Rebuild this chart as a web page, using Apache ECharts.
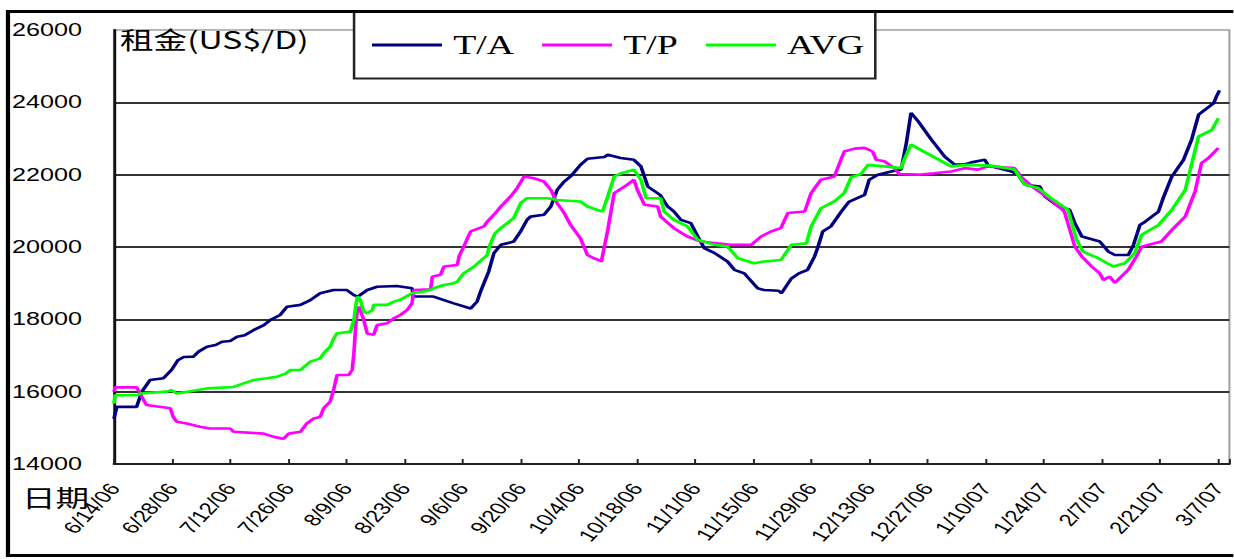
<!DOCTYPE html>
<html>
<head>
<meta charset="utf-8">
<script src="https://cdn.jsdelivr.net/npm/echarts@6/dist/echarts.min.js"></script>
<style>
html,body{margin:0;padding:0;background:#fff;overflow:hidden;width:1234px;height:559px;}
#main{width:881.43px;height:559px;transform:scaleX(1.4);transform-origin:0 0;}
</style>
</head>
<body>
<div id="main"></div>
<script>
// x = business-day index from 6/14/06 (10 days per labelled tick)
var tickLabels = ['6/14/06','6/28/06','7/12/06','7/26/06','8/9/06','8/23/06','9/6/06','9/20/06','10/4/06','10/18/06','11/1/06','11/15/06','11/29/06','12/13/06','12/27/06','1/10/07','1/24/07','2/7/07','2/21/07','3/7/07'];
var seriesNames = ['T/A','T/P','AVG'];

var TA = [[0,15250],[0.5,15580],[3.9,15580],[4.8,16000],[6.2,16320],[8.5,16370],[9.9,16600],[11,16870],[12,16960],[13.7,16970],[14.5,17100],[16,17240],[17.5,17290],[18.6,17380],[20,17400],[21.2,17520],[22.5,17560],[24,17700],[25.8,17840],[26.9,17980],[28.6,18120],[29.8,18350],[32.1,18400],[33.8,18530],[35.5,18720],[37.8,18810],[40.1,18810],[41.3,18670],[42,18630],[43.6,18810],[45.3,18900],[48.7,18920],[51.3,18860],[51.6,18630],[55,18630],[56.8,18530],[58.5,18440],[61.4,18300],[62.5,18490],[63.2,18810],[64.5,19320],[65.4,19830],[66.6,20060],[68.8,20150],[70,20430],[71.1,20750],[71.7,20840],[74,20890],[75.2,21120],[76.3,21580],[77.5,21810],[78.6,21950],[80.3,22270],[81.5,22440],[84.4,22490],[85,22550],[87.2,22460],[89.5,22410],[90.7,22230],[91.3,21950],[91.9,21670],[94,21440],[95.3,21120],[96.4,20980],[97.6,20750],[99.3,20660],[100.5,20290],[101.6,19970],[103.4,19830],[105.6,19600],[106.8,19370],[108.5,19270],[109,19180],[110.8,18860],[111.9,18810],[114.4,18790],[114.9,18720],[116.6,19130],[117.9,19270],[119.4,19370],[120.6,19740],[121.2,20010],[122,20430],[123.4,20570],[125.2,20980],[126.5,21250],[129.2,21440],[130,21860],[131.5,22000],[133.8,22090],[135.5,22140],[136.4,22880],[137.2,23710],[138.4,23480],[140.7,22970],[143,22500],[144.7,22280],[146.4,22280],[147.6,22340],[149.9,22410],[150.5,22250],[154.5,22090],[155.6,22000],[156.8,21720],[159.4,21670],[160.2,21400],[162.6,21120],[164.5,21030],[165.4,20660],[166.6,20290],[169.7,20150],[171.2,19870],[172.3,19780],[174.6,19780],[175.5,20060],[176.6,20610],[177.5,20700],[179.8,20980],[180.6,21350],[182.1,21950],[184.1,22410],[185.5,22970],[186.7,23660],[189.3,23980],[189.8,24170],[190.3,24330]];

var TP = [[0,16000],[0.2,16120],[3.9,16120],[4.5,15950],[5.1,15770],[5.6,15630],[9.7,15540],[10.2,15300],[10.8,15170],[12.5,15120],[14.8,15030],[16.5,14980],[20,14980],[20.6,14890],[25.8,14840],[27.5,14750],[29.2,14700],[30.1,14840],[32.1,14890],[33.2,15120],[34.4,15260],[35.5,15300],[36.1,15540],[37.2,15720],[37.8,16040],[38.4,16460],[40.4,16460],[41,16600],[41.3,17060],[41.6,17800],[41.9,18260],[42.2,18350],[43,17980],[43.6,17610],[44.7,17570],[45.3,17840],[47,17890],[48.2,18030],[49.3,18120],[50.5,18260],[51.3,18440],[51.6,18810],[54.5,18830],[54.8,19180],[56.2,19230],[56.8,19460],[59.1,19500],[59.4,19740],[60.2,20010],[61.4,20430],[63.7,20570],[64.25,20700],[65.4,20890],[66.6,21120],[68.3,21400],[69.4,21630],[70.6,21950],[72.3,21900],[74,21810],[75.2,21580],[76.3,21210],[77.5,20940],[78.6,20610],[80.3,20240],[81.5,19780],[82.6,19690],[83.9,19600],[85,20470],[86.1,21490],[87.9,21670],[89.5,21860],[90.1,21580],[91.3,21170],[93.6,21120],[94.1,20840],[96.4,20520],[98.7,20290],[101,20150],[106.2,20060],[109.7,20060],[111.4,20290],[113.1,20430],[114.8,20520],[116,20940],[118.9,20980],[120,21490],[121.7,21860],[124,21950],[125.7,22640],[127.5,22720],[129.2,22740],[130.6,22640],[131.2,22410],[132.6,22370],[134.3,22180],[135.2,22020],[138.4,22000],[141.2,22040],[144.1,22090],[146.4,22180],[148.7,22140],[150.5,22230],[155,22180],[156.1,21950],[158.4,21630],[161.3,21300],[163.6,20980],[165.4,20010],[166.6,19740],[168.3,19460],[169.7,19270],[170.3,19090],[171.4,19180],[172.3,19010],[174.6,19370],[176,19740],[176.9,20010],[180.3,20150],[182.1,20470],[184.4,20840],[186.1,21540],[187.2,22320],[188.4,22460],[190.1,22740]];

var AVG = [[0,15670],[0.2,15900],[3.9,15900],[4.5,15950],[9.1,16000],[9.9,16040],[10.8,15950],[14.2,16040],[16,16090],[20.6,16130],[22.3,16230],[24,16320],[26.3,16370],[28,16410],[29.5,16500],[30.4,16600],[32.1,16600],[33.8,16830],[35.5,16920],[36.1,17060],[37.2,17240],[37.8,17470],[38.4,17610],[40.7,17660],[41.3,17980],[41.6,18350],[41.9,18630],[42.4,18540],[43,18210],[43.6,18170],[44.5,18260],[44.7,18400],[47,18400],[48.2,18490],[49.3,18540],[51.3,18720],[53.3,18770],[54.5,18810],[55,18860],[56.8,18950],[58.5,19000],[59.1,19040],[60.2,19270],[62,19460],[64.25,19780],[64.6,20010],[65.6,20380],[66.6,20520],[67.7,20660],[68.8,20800],[70,21210],[71.1,21350],[74.6,21350],[76.3,21300],[80.3,21260],[81.5,21120],[84.1,20980],[85,21400],[86.1,21950],[87.3,22040],[89.5,22140],[90.7,21860],[91.6,21350],[94.1,21350],[94.7,20980],[96.4,20750],[98.7,20570],[100.5,20200],[103.4,20060],[105.6,20010],[107.4,19690],[110.2,19550],[111.9,19600],[114.8,19640],[116.6,20060],[119.2,20100],[120,20570],[121.7,21070],[124,21260],[125.7,21490],[126.9,21930],[128.6,22020],[129.8,22270],[132.6,22230],[135.5,22180],[136,22410],[137.2,22830],[144.1,22230],[147,22270],[151,22250],[155,22140],[156.8,21720],[159.1,21630],[161.3,21350],[164.2,21030],[165.7,20200],[166.8,19870],[169.4,19690],[172,19460],[174,19550],[175.7,19830],[176.9,20340],[179.8,20610],[182.1,21030],[184.4,21580],[186.7,23060],[189,23240],[190.1,23560]];

var colors = ['#000080','#ff00ff','#00ff00'];

var chart = echarts.init(document.getElementById('main'), null, {renderer:'svg'});
var lineSeries = [TA, TP, AVG].map(function(d, i){
  return {
    name: seriesNames[i], type: 'line', data: d,
    showSymbol: false, symbol: 'none',
    lineStyle: {color: colors[i], width: 2.6},
    itemStyle: {color: colors[i]},
    z: 3 + i
  };
});

chart.setOption({
  animation: false,
  backgroundColor: '#fff',
  title: [
    {text: '租金(US$/D)', left: 85.7, top: 26, padding: 0,
     textStyle: {fontFamily: 'Noto Sans CJK SC', fontSize: 24, fontWeight: 'normal', color: '#000'}},
    {text: '日期', left: 15.7, top: 484, padding: 0,
     textStyle: {fontFamily: 'Noto Sans CJK SC', fontSize: 24, fontWeight: 'normal', color: '#000'}}
  ],
  legend: {
    left: 252.9, top: 11.5,
    padding: [20, 8, 20, 12.8],
    itemGap: 20, itemWidth: 50, itemHeight: 3, icon: 'rect',
    borderColor: '#222', borderWidth: 1.8, backgroundColor: '#fff',
    textStyle: {fontFamily: 'Liberation Serif', fontSize: 27, color: '#000', padding: [0,0,0,3]},
    data: seriesNames
  },
  grid: {
    left: 81.4, right: 2.86, top: 30, bottom: 95,
    show: true, borderColor: '#a0a0a0', borderWidth: 1.5, backgroundColor: '#fff'
  },
  xAxis: {
    type: 'value', min: 0, max: 192, interval: 10,
    axisLine: {show: true, onZero: false, lineStyle: {color: '#222', width: 2}},
    axisTick: {show: true, inside: true, length: 5, lineStyle: {color: '#222', width: 1.4}},
    splitLine: {show: false},
    axisLabel: {
      rotate: 55, margin: 21, fontFamily: 'Liberation Sans', fontSize: 17, color: '#000',
      formatter: function(v){ return (v % 10 === 0 && tickLabels[v/10]) ? tickLabels[v/10] : ''; }
    }
  },
  yAxis: {
    type: 'value', min: 14000, max: 26000, interval: 2000,
    axisLine: {show: true, lineStyle: {color: '#111', width: 2}},
    axisTick: {show: false},
    splitLine: {show: true, showMaxLine: false, lineStyle: {color: '#333', width: 2}},
    axisLabel: {margin: 22.8, fontFamily: 'Liberation Sans', fontSize: 18, color: '#000',
      formatter: function(v){ return String(v); }}
  },
  graphic: [
    {type: 'rect', silent: true, z: 100,
     shape: {x: 5.7, y: 11.5, width: 1000, height: 544},
     style: {fill: 'none', stroke: '#000', lineWidth: 3}}
  ],
  series: lineSeries
});
</script>
</body>
</html>
